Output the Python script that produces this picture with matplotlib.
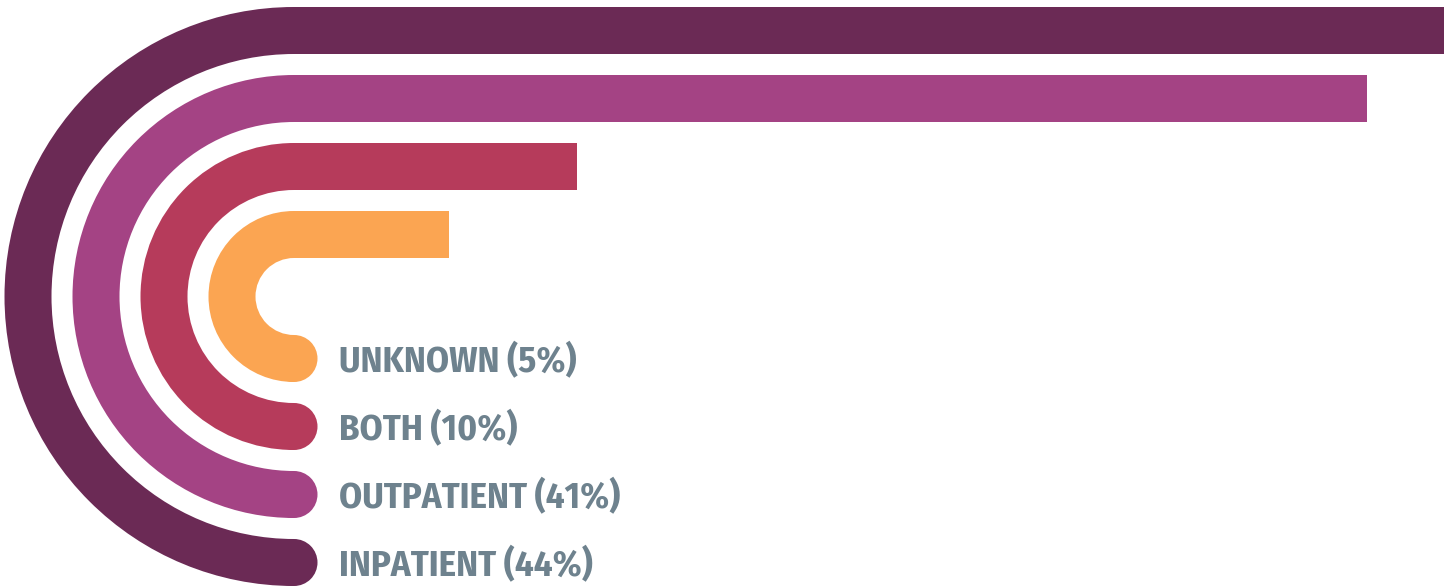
import matplotlib.pyplot as plt
from matplotlib.patches import Wedge, Rectangle, Circle
from matplotlib import font_manager

# data, inner band first
categories = ["UNKNOWN", "BOTH", "OUTPATIENT", "INPATIENT"]
values = [5, 10, 41, 44]
colors = ["#FBA552", "#B63B5B", "#A44384", "#6B2A55"]

W, H = 1455, 588
fig = plt.figure(figsize=(W / 100, H / 100), dpi=100)
ax = fig.add_axes([0, 0, 1, 1])
ax.set_xlim(0, W)
ax.set_ylim(H, 0)
ax.set_aspect("equal")
ax.axis("off")

cx, cy = 294, 296.5      # centre of the arcs
r0, step = 62, 68        # radius of inner band centre line, spacing
band = 47                # band thickness
px_per_pct = 25.5
bar_offset = 27.5

names = set(f.name for f in font_manager.fontManager.ttflist)
wanted = ["Fira Sans Condensed", "Asap Condensed", "Archivo Narrow",
          "Roboto Condensed", "DejaVu Sans"]
family = next(f for f in wanted if f in names)

for i, (cat, v, col) in enumerate(zip(categories, values, colors)):
    r = r0 + i * step
    ax.add_patch(Wedge((cx, cy), r + band / 2, 90, 270, width=band,
                       facecolor=col, edgecolor="none"))
    end = cx + bar_offset + v * px_per_pct
    ax.add_patch(Rectangle((cx - 0.5, cy - r - band / 2), end - cx + 0.5, band,
                           facecolor=col, edgecolor="none"))
    ax.add_patch(Circle((cx, cy + r), band / 2, facecolor=col, edgecolor="none"))
    ax.text(339, cy + r + 3, f"{cat} ({v}%)", fontsize=26.5, fontfamily=family,
            fontweight="bold", color="#6E828E", va="center", ha="left")

fig.savefig("out.png", dpi=100)
